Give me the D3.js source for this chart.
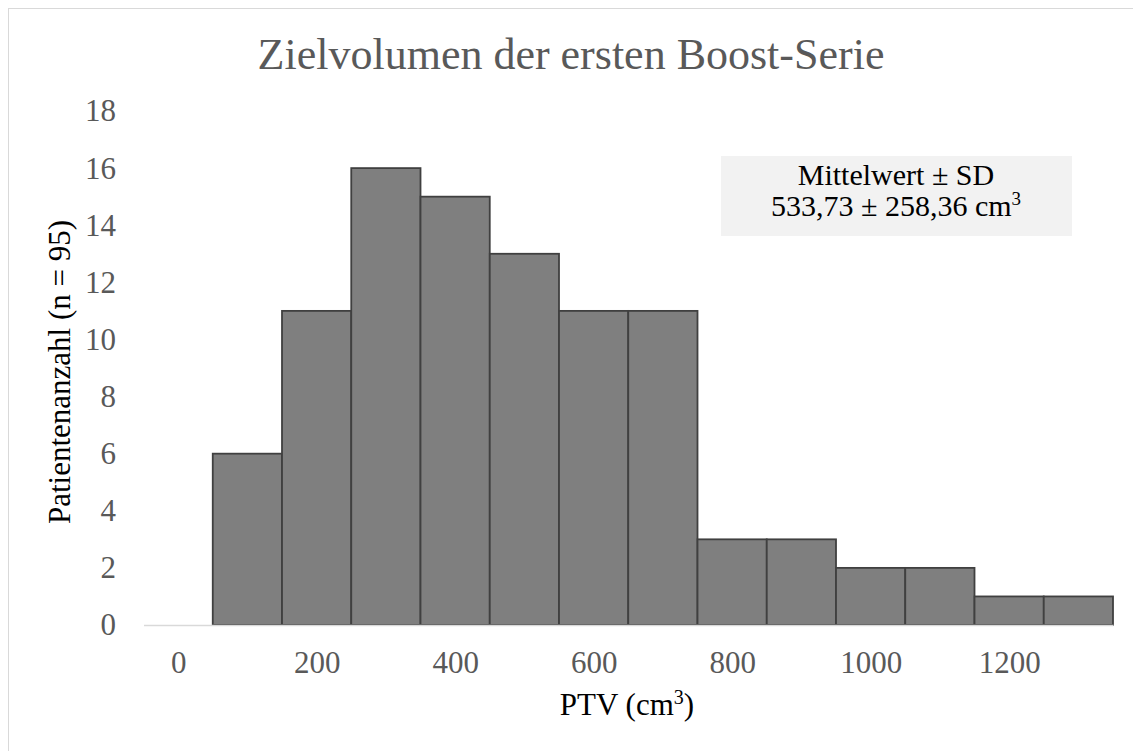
<!DOCTYPE html>
<html>
<head>
<meta charset="utf-8">
<script src="https://cdn.jsdelivr.net/npm/d3@7"></script>
<style>
  body { margin: 0; background: #fff; }
  svg text { font-family: "Liberation Serif", "Times New Roman", serif; }
</style>
</head>
<body>
<svg width="1133" height="751"></svg>
<script>
// bin edges (cm3) and patient counts per bin
var binStarts = [50, 150, 250, 350, 450, 550, 650, 750, 850, 950, 1050, 1150, 1250];
var binWidth = 100;
var counts = [6, 11, 16, 15, 13, 11, 11, 3, 3, 2, 2, 1, 1];
var xTicks = [0, 200, 400, 600, 800, 1000, 1200];
var yTicks = [0, 2, 4, 6, 8, 10, 12, 14, 16, 18];

var titleText = "Zielvolumen der ersten Boost-Serie";
var statLines = ["Mittelwert ± SD", "533,73 ± 258,36 cm"];

var svg = d3.select("svg");

// chart frame
svg.append("rect")
    .attr("x", 8.5).attr("y", 8.5)
    .attr("width", 1140).attr("height", 760)
    .attr("fill", "#fff")
    .attr("stroke", "#d9d9d9");

var x = d3.scaleLinear().domain([-50, 1350]).range([143.5, 1113]);
var y = d3.scaleLinear().domain([0, 18]).range([625, 111]);

var bins = binStarts.map(function(s, i) { return {x0: s, x1: s + binWidth, n: counts[i]}; });

// bars
svg.append("g")
    .selectAll("rect")
    .data(bins)
    .enter().append("rect")
    .attr("x", function(d) { return x(d.x0); })
    .attr("y", function(d) { return y(d.n); })
    .attr("width", function(d) { return x(d.x1) - x(d.x0); })
    .attr("height", function(d) { return y(0) - y(d.n); })
    .attr("fill", "#7f7f7f")
    .attr("stroke", "#404040")
    .attr("stroke-width", 1.8);

// x axis
var xAxis = svg.append("g")
    .attr("transform", "translate(0," + y(0) + ")")
    .call(d3.axisBottom(x).tickValues(xTicks).tickFormat(d3.format("d")).tickSize(0).tickPadding(26));
xAxis.select(".domain").attr("stroke", "#d9d9d9").attr("stroke-width", 1.5);
xAxis.selectAll("text")
    .attr("fill", "#595959")
    .style("font-size", "31px")
    .style("font-family", "'Liberation Serif', serif");

// y axis (labels only)
var yAxis = svg.append("g")
    .attr("transform", "translate(116,0)")
    .call(d3.axisLeft(y).tickValues(yTicks).tickSize(0).tickPadding(0));
yAxis.select(".domain").remove();
yAxis.selectAll("text")
    .attr("fill", "#595959")
    .style("font-size", "31px")
    .style("font-family", "'Liberation Serif', serif");

// title
svg.append("text")
    .attr("x", 571).attr("y", 69)
    .attr("text-anchor", "middle")
    .attr("fill", "#595959")
    .style("font-size", "44px")
    .text(titleText);

// axis titles
var xt = svg.append("text")
    .attr("x", 627).attr("y", 715)
    .attr("text-anchor", "middle")
    .attr("fill", "#000")
    .style("font-size", "31px");
xt.append("tspan").text("PTV (cm");
xt.append("tspan").attr("dy", -11).style("font-size", "20px").text("3");
xt.append("tspan").attr("dy", 11).text(")");

svg.append("text")
    .attr("transform", "translate(70,372) rotate(-90)")
    .attr("text-anchor", "middle")
    .attr("fill", "#000")
    .style("font-size", "31px")
    .text("Patientenanzahl (n = 95)");

// stats box
svg.append("rect")
    .attr("x", 721).attr("y", 156)
    .attr("width", 351).attr("height", 80)
    .attr("fill", "#f2f2f2");

svg.append("text")
    .attr("x", 896).attr("y", 185)
    .attr("text-anchor", "middle")
    .style("font-size", "30px")
    .text(statLines[0]);

var st = svg.append("text")
    .attr("x", 896).attr("y", 216)
    .attr("text-anchor", "middle")
    .style("font-size", "30px");
st.append("tspan").text(statLines[1]);
st.append("tspan").attr("dy", -11).style("font-size", "19px").text("3");
</script>
</body>
</html>
